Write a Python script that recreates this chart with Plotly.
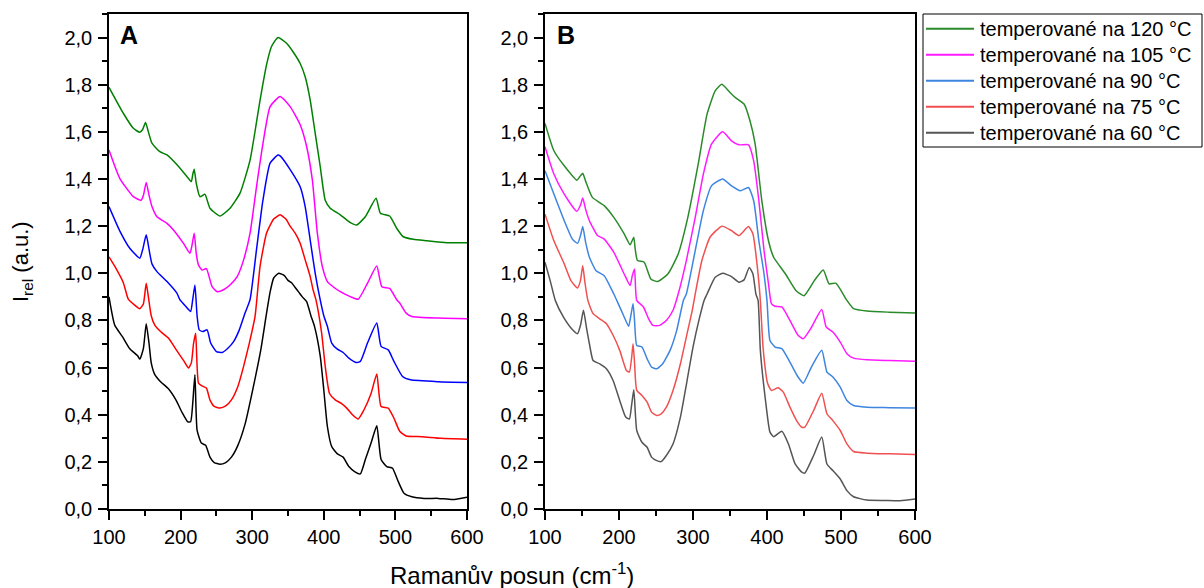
import plotly.graph_objects as go

# ---------------- Panel A data ----------------
a60_x = [100,108,119,129,140,143,148,152,156,159,164,172,183,194,202,210,214,217,220,223,229,235,241,247,255,263,271,280,290,301,312,320,325,330,337,345,350,355,360,365,370,376,382,387,395,400,405,411,419,427,435,443,451,458,466,474,480,488,496,504,512,523,540,560,580,600]
a60_y = [0.90,0.78,0.73,0.68,0.65,0.636,0.68,0.786,0.70,0.62,0.57,0.54,0.51,0.46,0.41,0.37,0.37,0.45,0.57,0.335,0.28,0.27,0.22,0.197,0.19,0.197,0.22,0.27,0.36,0.51,0.675,0.83,0.92,0.98,1.0,0.99,0.97,0.96,0.94,0.92,0.90,0.88,0.82,0.775,0.65,0.505,0.35,0.265,0.234,0.22,0.18,0.159,0.149,0.21,0.28,0.353,0.21,0.18,0.173,0.116,0.067,0.052,0.045,0.045,0.04,0.05]

a75_x = [100,108,120,127,135,143,148,152,155,159,164,172,183,194,205,211,215,218,221,225,230,236,241,247,255,263,271,280,288,296,304,311,320,330,339,347,353,360,367,374,381,385,389,397,402,408,416,424,432,440,448,456,466,474,480,490,498,506,515,537,564,600]
a75_y = [1.07,1.03,0.96,0.89,0.867,0.85,0.87,0.958,0.90,0.82,0.78,0.753,0.725,0.675,0.626,0.598,0.62,0.70,0.746,0.534,0.522,0.513,0.463,0.435,0.428,0.437,0.463,0.52,0.605,0.704,0.817,1.03,1.17,1.23,1.248,1.23,1.2,1.17,1.127,1.057,0.986,0.93,0.888,0.746,0.605,0.49,0.463,0.449,0.428,0.40,0.382,0.42,0.49,0.573,0.435,0.428,0.385,0.33,0.31,0.307,0.30,0.296]

a90_x = [100,115,129,143,147,152,156,160,167,181,195,199,207,214,217,220,223,226,231,237,242,250,258,266,274,282,290,297,306,315,325,336,339,353,367,374,381,388,395,400,405,411,419,427,435,445,451,461,474,480,490,498,510,521,560,600]
a90_y = [1.283,1.18,1.106,1.064,1.10,1.163,1.10,1.04,1.007,0.965,0.915,0.888,0.86,0.838,0.89,0.95,0.82,0.76,0.753,0.76,0.704,0.668,0.664,0.682,0.71,0.76,0.831,0.888,1.10,1.31,1.467,1.502,1.498,1.44,1.367,1.283,1.141,1.0,0.887,0.82,0.775,0.704,0.678,0.664,0.64,0.622,0.626,0.704,0.789,0.69,0.675,0.626,0.562,0.548,0.54,0.537]

a105_x = [100,115,134,145,148,152,156,160,167,181,190,204,213,216,219,222,225,230,236,244,251,260,269,279,288,297,306,315,325,339,353,367,376,384,391,398,405,413,423,437,448,461,474,481,492,502,506,515,523,560,600]
a105_y = [1.523,1.403,1.325,1.31,1.33,1.385,1.33,1.283,1.24,1.212,1.184,1.127,1.085,1.12,1.17,1.08,1.035,1.014,1.02,0.943,0.922,0.93,0.95,0.986,1.057,1.17,1.367,1.55,1.707,1.75,1.707,1.63,1.538,1.396,1.17,1.028,0.965,0.943,0.922,0.901,0.89,0.958,1.031,0.943,0.936,0.887,0.874,0.831,0.817,0.81,0.807]

a120_x = [100,120,134,143,147,151,155,160,171,181,195,209,215,217,219,222,227,234,241,255,269,283,297,311,320,327,336,348,357,367,374,381,388,395,402,409,423,437,446,458,473,479,492,502,511,525,544,572,600]
a120_y = [1.789,1.679,1.615,1.598,1.61,1.64,1.60,1.552,1.516,1.502,1.46,1.41,1.389,1.42,1.441,1.38,1.325,1.335,1.276,1.243,1.276,1.34,1.48,1.735,1.884,1.962,2.0,1.976,1.94,1.89,1.834,1.735,1.594,1.453,1.31,1.276,1.248,1.215,1.205,1.24,1.318,1.255,1.243,1.19,1.155,1.144,1.138,1.13,1.13]

# ---------------- Panel B data ----------------
b60_x = [100,107,114,125,136,144,148,152,156,160,165,174,183,192,201,209,214,217,220,224,231,238,244,251,257,264,273,283,292,300,309,315,319,330,340,352,362,369,376,381,385,388,391,398,404,409,420,429,438,447,451,463,474,481,489,499,508,517,535,560,580,600]
b60_y = [1.047,0.969,0.884,0.814,0.765,0.744,0.78,0.843,0.77,0.701,0.63,0.616,0.595,0.545,0.46,0.39,0.382,0.44,0.506,0.333,0.283,0.262,0.22,0.205,0.201,0.227,0.276,0.39,0.545,0.687,0.814,0.885,0.912,0.983,1.0,0.986,0.962,0.972,1.025,0.997,0.912,0.884,0.673,0.46,0.326,0.307,0.33,0.276,0.191,0.156,0.152,0.227,0.305,0.191,0.163,0.127,0.078,0.052,0.038,0.036,0.035,0.042]

b75_x = [100,112,126,135,144,148,151,154,158,165,174,183,192,201,210,214,217,219,221,224,231,238,244,251,257,264,273,283,292,299,303,312,323,339,352,362,375,381,387,391,395,401,406,415,422,431,440,447,451,463,474,481,489,499,508,517,535,565,600]
b75_y = [1.251,1.138,1.04,0.969,0.938,0.97,1.032,0.96,0.884,0.829,0.807,0.786,0.737,0.673,0.588,0.581,0.64,0.701,0.62,0.503,0.482,0.453,0.411,0.397,0.404,0.432,0.503,0.616,0.744,0.843,0.912,1.054,1.153,1.2,1.181,1.16,1.198,1.167,1.025,0.884,0.673,0.531,0.503,0.514,0.496,0.432,0.375,0.347,0.347,0.418,0.491,0.404,0.375,0.333,0.276,0.244,0.237,0.234,0.231]

b90_x = [100,112,126,137,144,148,151,155,160,169,180,193,197,206,213,216,219,221,224,231,238,244,251,259,269,278,287,291,303,314,325,340,352,364,375,382,389,396,400,404,411,420,431,442,449,460,474,481,489,499,508,517,535,565,600]
b90_y = [1.435,1.336,1.223,1.145,1.127,1.16,1.198,1.13,1.068,1.011,0.99,0.912,0.885,0.822,0.775,0.82,0.871,0.80,0.694,0.687,0.637,0.602,0.595,0.616,0.673,0.758,0.885,0.912,1.096,1.266,1.371,1.4,1.371,1.35,1.364,1.308,1.138,0.997,0.884,0.715,0.687,0.68,0.623,0.56,0.534,0.602,0.673,0.581,0.56,0.517,0.46,0.439,0.432,0.43,0.428]

b105_x = [100,112,126,143,148,151,155,160,171,180,193,207,215,218,221,224,233,240,246,255,264,273,280,291,303,314,325,340,352,362,375,382,389,396,402,406,411,420,431,442,449,459,474,480,489,499,508,517,535,565,600]
b105_y = [1.537,1.421,1.336,1.263,1.29,1.319,1.27,1.223,1.16,1.145,1.089,0.997,0.948,0.99,1.018,0.885,0.857,0.807,0.779,0.779,0.80,0.843,0.912,1.054,1.237,1.421,1.548,1.6,1.562,1.545,1.545,1.477,1.308,1.096,0.955,0.871,0.86,0.857,0.80,0.737,0.722,0.765,0.846,0.772,0.751,0.708,0.659,0.64,0.633,0.63,0.627]

b120_x = [100,112,126,143,147,151,155,164,180,193,207,215,218,220,222,225,234,243,252,266,280,293,307,319,330,339,350,357,369,377,384,393,402,409,425,439,450,464,476,484,493,508,517,535,565,600]
b120_y = [1.636,1.52,1.456,1.395,1.41,1.424,1.39,1.322,1.287,1.237,1.167,1.121,1.14,1.153,1.10,1.054,1.047,0.976,0.965,0.997,1.082,1.237,1.463,1.675,1.774,1.802,1.767,1.746,1.718,1.647,1.548,1.308,1.138,1.068,0.997,0.927,0.905,0.969,1.014,0.955,0.958,0.885,0.85,0.84,0.835,0.831]

labels = ["temperované na 120 °C", "temperované na 105 °C", "temperované na 90 °C",
          "temperované na 75 °C", "temperované na 60 °C"]

colors_a = ["#008000", "#ff00ff", "#0000ff", "#ff0000", "#000000"]
colors_b = ["#2a8a2a", "#ff1aff", "#3d85e0", "#f05050", "#555555"]

series_a = [(a120_x, a120_y), (a105_x, a105_y), (a90_x, a90_y), (a75_x, a75_y), (a60_x, a60_y)]
series_b = [(b120_x, b120_y), (b105_x, b105_y), (b90_x, b90_y), (b75_x, b75_y), (b60_x, b60_y)]

FONT = "Liberation Sans, Arial, sans-serif"

fig = go.Figure()
for (x, y), c, lab in zip(series_b, colors_b, labels):
    fig.add_trace(go.Scatter(x=x, y=y, mode="lines", name=lab, xaxis="x2", yaxis="y2",
                             line=dict(color=c, width=1.5, shape="spline", smoothing=0.5),
                             showlegend=False))
for (x, y), c, lab in zip(series_a, colors_a, labels):
    fig.add_trace(go.Scatter(x=x, y=y, mode="lines", name=lab, xaxis="x", yaxis="y",
                             line=dict(color=c, width=1.5, shape="spline", smoothing=0.5),
                             showlegend=False))

W, H = 1204, 588
ydom = [1 - 509 / H, 1 - 14 / H]
tickfont = dict(family=FONT, size=20, color="#000")

def xaxis(dom, anchor):
    return dict(domain=dom, anchor=anchor, range=[100, 600], dtick=100, tick0=100,
                showgrid=False, zeroline=False, showline=True, linecolor="#000", linewidth=1.5,
                mirror=True, ticks="outside", ticklen=9, tickwidth=1.5, tickcolor="#000",
                tickfont=tickfont, automargin=False,
                minor=dict(dtick=50, tick0=100, ticks="outside", ticklen=5, tickwidth=1.5, tickcolor="#000"))

def yaxis(anchor):
    return dict(domain=ydom, anchor=anchor, range=[0, 2.1], dtick=0.2, tick0=0, tickformat=".1f",
                showgrid=False, zeroline=False, showline=True, linecolor="#000", linewidth=1.5,
                mirror=True, ticks="outside", ticklen=9, tickwidth=1.5, tickcolor="#000",
                tickfont=tickfont, automargin=False, ticklabelstandoff=2,
                minor=dict(dtick=0.1, tick0=0, ticks="outside", ticklen=5, tickwidth=1.5, tickcolor="#000"))

# legend box (drawn in paper pixels)
LX0, LX1, LY0, LY1 = 923, 1202, 14, 147
ROW0, ROWH = 28.7, 26.0
shapes = [dict(type="rect", xref="paper", yref="paper",
               x0=LX0 / W, x1=LX1 / W, y0=1 - LY1 / H, y1=1 - LY0 / H,
               line=dict(color="#000", width=1), fillcolor="white", layer="below")]
annotations = []
for i, (lab, c) in enumerate(zip(labels, colors_b)):
    yy = 1 - (ROW0 + i * ROWH) / H
    shapes.append(dict(type="line", xref="paper", yref="paper", x0=926 / W, x1=974 / W,
                       y0=yy, y1=yy, line=dict(color=c, width=2)))
    annotations.append(dict(text=lab, x=978 / W, y=yy, xref="paper", yref="paper",
                            xanchor="left", yanchor="middle", showarrow=False,
                            font=dict(size=20, family=FONT, color="#000")))

annotations += [
    dict(text="<b>A</b>", x=118 / W, y=1 - 35 / H, xref="paper", yref="paper",
         xanchor="left", yanchor="middle", showarrow=False, font=dict(size=25, family=FONT)),
    dict(text="<b>B</b>", x=555 / W, y=1 - 35 / H, xref="paper", yref="paper",
         xanchor="left", yanchor="middle", showarrow=False, font=dict(size=25, family=FONT)),
    dict(text="Ramanův posun (cm<sup>-1</sup>)", x=512 / W, y=0,
         xref="paper", yref="paper", xanchor="center", yanchor="bottom", yshift=-3,
         showarrow=False, font=dict(size=24, family=FONT)),
    dict(text="I<sub>rel</sub> (a.u.)", x=6 / W, y=1 - 262 / H, textangle=-90,
         xref="paper", yref="paper", xanchor="left", yanchor="middle",
         showarrow=False, font=dict(size=22, family=FONT)),
]

fig.update_layout(
    width=W, height=H, autosize=False, margin=dict(l=0, r=0, t=0, b=0, pad=0),
    paper_bgcolor="white", plot_bgcolor="white",
    separators=", ",
    showlegend=False,
    font=dict(family=FONT, color="#000"),
    xaxis=xaxis([109 / W, 467 / W], "y"),
    yaxis=yaxis("x"),
    xaxis2=xaxis([545 / W, 915 / W], "y2"),
    yaxis2=yaxis("x2"),
    shapes=shapes,
    annotations=annotations,
)

fig.write_html("out.html")
